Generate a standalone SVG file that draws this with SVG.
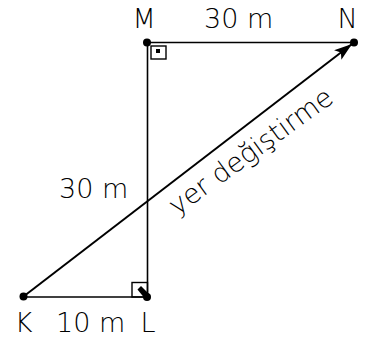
<svg xmlns="http://www.w3.org/2000/svg" width="367" height="345" viewBox="0 0 367 345">
<style>
.lbl{font-family:"DejaVu Sans",sans-serif;font-size:27px;font-weight:200;fill:#000}
.seg{stroke:#000;stroke-width:1.6;fill:none}
.mark{stroke:#000;stroke-width:1.4;fill:none}
.dot{fill:#000}
</style>
<defs>
<marker id="ah" markerUnits="userSpaceOnUse" markerWidth="20" markerHeight="12" refX="18" refY="6" orient="auto">
<path d="M0,0 L18,6 L0,12 L4,6 Z" fill="#000"/>
</marker>
</defs>
<rect width="367" height="345" fill="#fff"/>
<g id="connectors">
<line class="seg" x1="147.5" y1="42.5" x2="354" y2="42.5"/>
<line class="seg" x1="147.5" y1="42.5" x2="147.5" y2="297"/>
<line class="seg" x1="23.5" y1="297" x2="147.5" y2="297"/>
<line stroke="#000" stroke-width="2" x1="23.5" y1="296.5" x2="352" y2="44" marker-end="url(#ah)"/>
</g>
<g id="M">
<circle class="dot" cx="147" cy="42.5" r="4"/>
<rect class="mark" x="151" y="46" width="15" height="13"/>
<rect class="dot" x="156" y="49" width="4" height="4"/>
<text class="lbl" x="132.5" y="27.5">M</text>
</g>
<g id="N">
<circle class="dot" cx="354" cy="42.5" r="4"/>
<text class="lbl" x="337.5" y="27.5">N</text>
</g>
<g id="K">
<circle class="dot" cx="23.5" cy="296.5" r="4"/>
<text class="lbl" x="14.7" y="331.7">K</text>
</g>
<g id="L">
<circle class="dot" cx="147" cy="297" r="4"/>
<rect class="mark" x="132" y="282.5" width="15.5" height="14.5"/>
<path class="dot" d="M137.5,289.5 L141,286 L150,295 L146,300 Z"/>
<text class="lbl" x="140.4" y="331.7">L</text>
</g>
<g id="labels">
<text class="lbl" x="204" y="28.3">30 m</text>
<text class="lbl" x="59" y="198.3">30 m</text>
<text class="lbl" x="56" y="331.7">10 m</text>
<text class="lbl" transform="translate(177,216) rotate(-36)">yer değiştirme</text>
</g>
</svg>
